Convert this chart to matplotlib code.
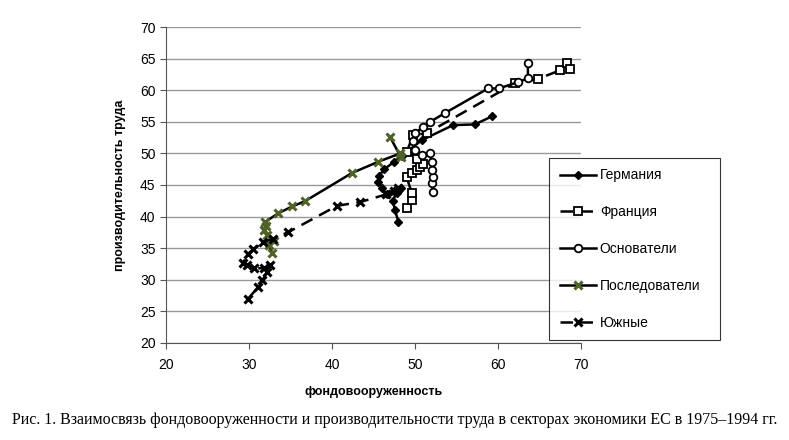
import matplotlib.pyplot as plt

plt.rcParams['font.family'] = ['Liberation Sans', 'DejaVu Sans']

# Германия
ger_x = [48.0, 47.6, 47.3, 47.8, 48.3, 47.5, 46.6, 46.0, 45.6, 45.7, 46.3, 47.5, 48.4, 50.8, 54.6, 57.2, 59.3]
ger_y = [39.1, 41.0, 42.5, 43.8, 44.5, 44.0, 43.5, 44.5, 45.5, 46.5, 47.5, 48.7, 49.6, 52.1, 54.5, 54.6, 55.9]

# Франция
fra_x = [49.0, 49.6, 49.6, 49.0, 49.6, 50.2, 50.6, 51.0, 50.2, 49.0, 49.8, 51.4, 62.0, 64.8, 67.5, 68.3, 68.7]
fra_y = [41.3, 42.7, 43.8, 46.2, 46.9, 47.3, 47.9, 48.4, 49.2, 50.3, 52.9, 53.2, 61.1, 61.8, 63.2, 64.4, 63.4]

# Основатели
fnd_x = [52.2, 52.0, 52.2, 52.0, 52.0, 51.8, 50.8, 50.0, 49.8, 50.0, 51.0, 51.8, 53.6, 58.8, 60.1, 62.4, 63.6, 63.6]
fnd_y = [43.9, 45.3, 46.3, 47.4, 48.7, 50.0, 49.7, 50.5, 51.9, 53.2, 54.2, 55.0, 56.4, 60.3, 60.3, 61.3, 61.9, 64.3]

# Последователи
fol_x = [32.8, 32.4, 33.0, 32.2, 31.8, 32.0, 31.9, 33.5, 35.2, 36.7, 42.4, 45.6, 48.2, 48.3, 47.0]
fol_y = [34.2, 35.5, 36.2, 37.0, 37.8, 38.5, 39.1, 40.5, 41.6, 42.4, 46.9, 48.7, 50.0, 49.4, 52.6]

# Южные
sou_x = [29.9, 31.1, 31.6, 32.2, 32.5, 31.8, 30.6, 29.8, 29.3, 29.9, 30.5, 31.7, 32.9, 34.7, 40.6, 43.4, 46.5, 47.5, 48.0]
sou_y = [27.0, 28.8, 29.9, 31.2, 32.3, 31.8, 31.8, 32.3, 32.7, 34.1, 34.8, 35.9, 36.5, 37.5, 41.7, 42.3, 43.5, 44.0, 44.6]

fig = plt.figure(figsize=(7.89, 4.40), dpi=100)
ax = fig.add_axes([0.2104, 0.2211, 0.5260, 0.7169])

ax.plot(ger_x, ger_y, color='black', lw=1.8, marker='D', ms=4.5, mfc='black', mec='black', label='Германия')
ax.plot(fra_x, fra_y, color='black', lw=1.8, ls=(0, (5, 3)), marker='s', ms=5.5, mfc='white', mec='black',
        mew=1.3, label='Франция')
ax.plot(fnd_x, fnd_y, color='black', lw=1.8, marker='o', ms=5.5, mfc='white', mec='black', mew=1.3,
        label='Основатели')
ax.plot(fol_x, fol_y, color='black', lw=1.8, marker='x', ms=6, mec='#4f6228', mew=2.2,
        label='Последователи')
ax.plot(sou_x, sou_y, color='black', lw=1.8, ls=(0, (5, 3)), marker='x', ms=6, mec='black', mew=2.2,
        label='Южные')

ax.set_xlim(20, 70)
ax.set_ylim(20, 70)
ax.set_xticks(range(20, 71, 10))
ax.set_yticks(range(20, 71, 5))
ax.yaxis.grid(True, color='#999999', lw=1)
ax.set_axisbelow(True)
for s in ['top', 'right']:
    ax.spines[s].set_visible(False)
ax.spines['left'].set_color('#555555')
ax.spines['bottom'].set_color('#555555')
ax.tick_params(labelsize=10, color='#555555', length=4)
ax.tick_params(axis='x', pad=7)

ax.set_xlabel('фондовооруженность', fontsize=9, fontweight='bold', labelpad=10)
ax.set_ylabel('производительность труда', fontsize=9, fontweight='bold', labelpad=10)

leg = fig.legend(loc='upper left', bbox_to_anchor=(0.696, 0.227, 0.2165, 0.414), mode='expand',
                 fontsize=10, frameon=True, fancybox=False, edgecolor='black', handlelength=2.6,
                 labelspacing=1.65, borderpad=0.75, handletextpad=0.3, borderaxespad=0)
leg.get_frame().set_linewidth(0.8)

fig.text(0.5, 0.045, 'Рис. 1. Взаимосвязь фондовооруженности и производительности труда в секторах экономики ЕС в 1975–1994 гг.',
         ha='center', va='center', fontsize=11.5, family=['Liberation Serif', 'DejaVu Serif'])

fig.savefig('out.png', dpi=100)
